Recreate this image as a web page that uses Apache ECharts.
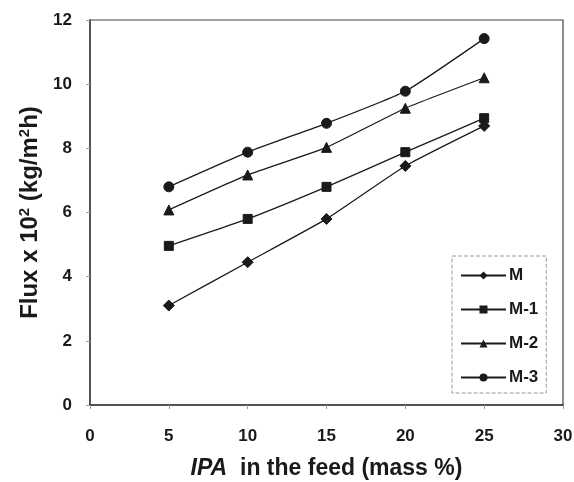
<!DOCTYPE html>
<html>
<head>
<meta charset="utf-8">
<script src="https://cdn.jsdelivr.net/npm/echarts@6/dist/echarts.min.js"></script>
<style>
  html, body { margin: 0; padding: 0; background: #fff; }
  #main { width: 574px; height: 482px; }
</style>
</head>
<body>
<div id="main"></div>
<script>
// IPA concentration in the feed (mass %)
var ipa = [5, 10, 15, 20, 25];

// flux x 10^2 (kg/m2h) for each membrane
var fluxM = [3.1, 4.45, 5.8, 7.45, 8.7];
var fluxM1 = [4.96, 5.8, 6.8, 7.88, 8.94];
var fluxM2 = [6.08, 7.17, 8.03, 9.25, 10.2];
var fluxM3 = [6.8, 7.88, 8.78, 9.78, 11.42];

var names = ["M", "M-1", "M-2", "M-3"];
var symbols = ["diamond", "rect", "triangle", "circle"];
var sizes = [11, 9, 10, 10];
var allData = [fluxM, fluxM1, fluxM2, fluxM3];

var font = "Liberation Sans, Arial, sans-serif";
var ink = "#1a1a1a";

function pairs(xs, ys) {
  var out = [];
  for (var i = 0; i < xs.length; i++) out.push([xs[i], ys[i]]);
  return out;
}

var series = [];
for (var i = 0; i < names.length; i++) {
  series.push({
    name: names[i],
    type: "line",
    data: pairs(ipa, allData[i]),
    symbol: symbols[i],
    symbolSize: sizes[i],
    smooth: 0.15,
    lineStyle: { color: ink, width: 1.3 },
    itemStyle: { color: ink, borderColor: ink },
  });
}

var myChart = echarts.init(document.getElementById("main"));

var option = {
  animation: false,
  backgroundColor: "#fff",
  grid: { left: 90, top: 20, right: 11, bottom: 77, containLabel: false, outerBoundsMode: "none" },
  legend: {
    orient: "vertical",
    left: 452,
    top: 256,
    padding: [11, 8, 7, 8],
    itemWidth: 45,
    itemHeight: 10,
    itemGap: 17,
    borderColor: "#999",
    borderWidth: 1,
    borderType: "dashed",
    data: names,
    textStyle: { fontFamily: font, fontWeight: "bold", fontSize: 17, color: ink, padding: [0, 0, 0, -2] },
  },
  xAxis: {
    type: "value",
    min: 0,
    max: 30,
    interval: 5,
    name: "{i|IPA}{n|  in the feed (mass %)}",
    nameLocation: "middle",
    nameGap: 52,
    nameTextStyle: {
      rich: {
        i: { fontFamily: font, fontWeight: "bold", fontStyle: "italic", fontSize: 23, color: ink },
        n: { fontFamily: font, fontWeight: "bold", fontSize: 23, color: ink },
      },
    },
    axisLine: { lineStyle: { color: ink, width: 1.5 } },
    axisTick: { show: true, length: 4, lineStyle: { color: "#999" } },
    axisLabel: { fontFamily: font, fontWeight: "bold", fontSize: 17, color: ink, margin: 23 },
    splitLine: { show: false },
  },
  yAxis: {
    type: "value",
    min: 0,
    max: 12,
    interval: 2,
    name: "{n|Flux x 10}{s|2}{n| (kg/m}{s|2}{n|h)}",
    nameLocation: "middle",
    nameRotate: 90,
    nameGap: 47,
    nameTextStyle: {
      rich: {
        n: { fontFamily: font, fontWeight: "bold", fontSize: 24, color: ink },
        s: { fontFamily: font, fontWeight: "bold", fontSize: 15, color: ink, verticalAlign: "top", padding: [0, 0, 11, 0] },
      },
    },
    axisLine: { show: true, lineStyle: { color: ink, width: 1.5 } },
    axisTick: { show: true, length: 4, lineStyle: { color: "#999" } },
    axisLabel: { fontFamily: font, fontWeight: "bold", fontSize: 17, color: ink, margin: 18 },
    splitLine: { show: false },
  },
  graphic: [
    {
      // right and top frame of the plot box
      type: "polyline",
      shape: { points: [[90, 20], [563, 20], [563, 405]] },
      style: { stroke: "#444", lineWidth: 1.2, fill: null },
      silent: true,
    },
  ],
  series: series,
};

myChart.setOption(option);
</script>
</body>
</html>
